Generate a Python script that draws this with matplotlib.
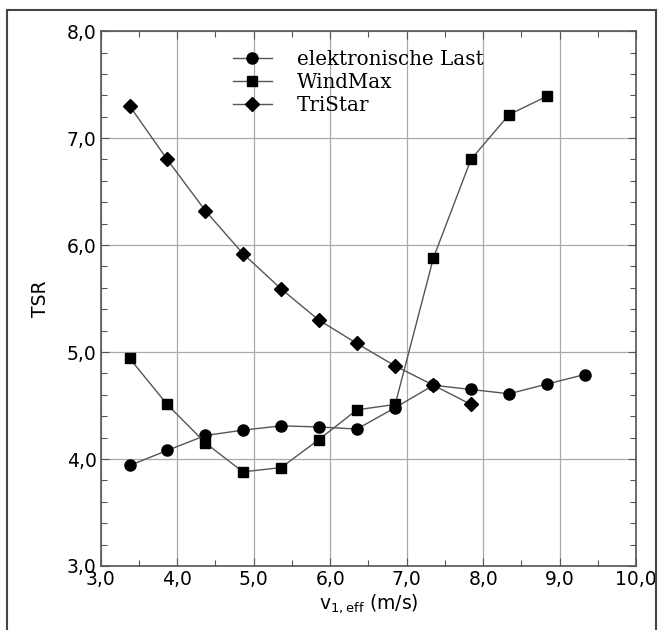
import matplotlib
matplotlib.use("Agg")
import matplotlib.pyplot as plt
from matplotlib.ticker import MultipleLocator, FuncFormatter
from matplotlib.lines import Line2D

# Data
x_last = [3.38, 3.87, 4.37, 4.86, 5.36, 5.85, 6.35, 6.85, 7.35, 7.84, 8.34, 8.83, 9.33]
y_last = [3.94, 4.08, 4.22, 4.27, 4.31, 4.30, 4.28, 4.48, 4.69, 4.65, 4.61, 4.70, 4.79]

x_windmax = [3.38, 3.87, 4.37, 4.86, 5.36, 5.85, 6.35, 6.85, 7.35, 7.84, 8.34, 8.83]
y_windmax = [4.94, 4.51, 4.15, 3.88, 3.92, 4.18, 4.46, 4.51, 5.88, 6.80, 7.22, 7.39]

x_tristar = [3.38, 3.87, 4.37, 4.86, 5.36, 5.85, 6.35, 6.85, 7.35, 7.84]
y_tristar = [7.30, 6.80, 6.32, 5.92, 5.59, 5.30, 5.08, 4.87, 4.69, 4.51]

labels = ["elektronische Last", "WindMax", "TriStar"]

fig = plt.figure(figsize=(6.62, 6.30), dpi=100)
ax = fig.add_axes([0.152, 0.1016, 0.809, 0.849])

line_kw = dict(color="#555555", linewidth=1.0, markerfacecolor="black", markeredgecolor="black")
ax.plot(x_last, y_last, marker="o", markersize=8, label=labels[0], **line_kw)
ax.plot(x_windmax, y_windmax, marker="s", markersize=7.5, label=labels[1], **line_kw)
ax.plot(x_tristar, y_tristar, marker="D", markersize=7.5, label=labels[2], **line_kw)

ax.set_xlim(3.0, 10.0)
ax.set_ylim(3.0, 8.0)
ax.xaxis.set_major_locator(MultipleLocator(1.0))
ax.xaxis.set_minor_locator(MultipleLocator(0.5))
ax.yaxis.set_major_locator(MultipleLocator(1.0))
ax.yaxis.set_minor_locator(MultipleLocator(0.2))
fmt = FuncFormatter(lambda v, p: f"{v:.1f}".replace(".", ","))
ax.xaxis.set_major_formatter(fmt)
ax.yaxis.set_major_formatter(fmt)

ax.grid(True, which="major", color="#aaaaaa", linewidth=0.9)
ax.tick_params(which="both", direction="in", top=True, right=True, colors="#555555",
               labelcolor="black", labelsize=13.5, pad=3)
ax.tick_params(which="major", length=6, width=0.8)
ax.tick_params(which="minor", length=4, width=0.8)
for s in ax.spines.values():
    s.set_color("#555555")
    s.set_linewidth(1.2)

ax.set_xlabel(r"v$_{\mathregular{1,eff}}$ (m/s)", fontsize=13.5, labelpad=2)
ax.set_ylabel("TSR", fontsize=13.5, labelpad=12)

leg = ax.legend(loc="upper left", bbox_to_anchor=(0.213, 0.998), frameon=False,
                prop={"family": "DejaVu Serif", "size": 14.3}, handlelength=1.96,
                handletextpad=1.26, labelspacing=0.2)

# outer frame
fig.add_artist(Line2D([7/662, 7/662], [0, 1 - 10/630], transform=fig.transFigure, color="#444444", linewidth=1.5))
fig.add_artist(Line2D([7/662, 656/662], [1 - 10/630, 1 - 10/630], transform=fig.transFigure, color="#444444", linewidth=1.5))
fig.add_artist(Line2D([656/662, 656/662], [0, 1 - 10/630], transform=fig.transFigure, color="#444444", linewidth=1.5))

fig.savefig("out.png", dpi=100)
